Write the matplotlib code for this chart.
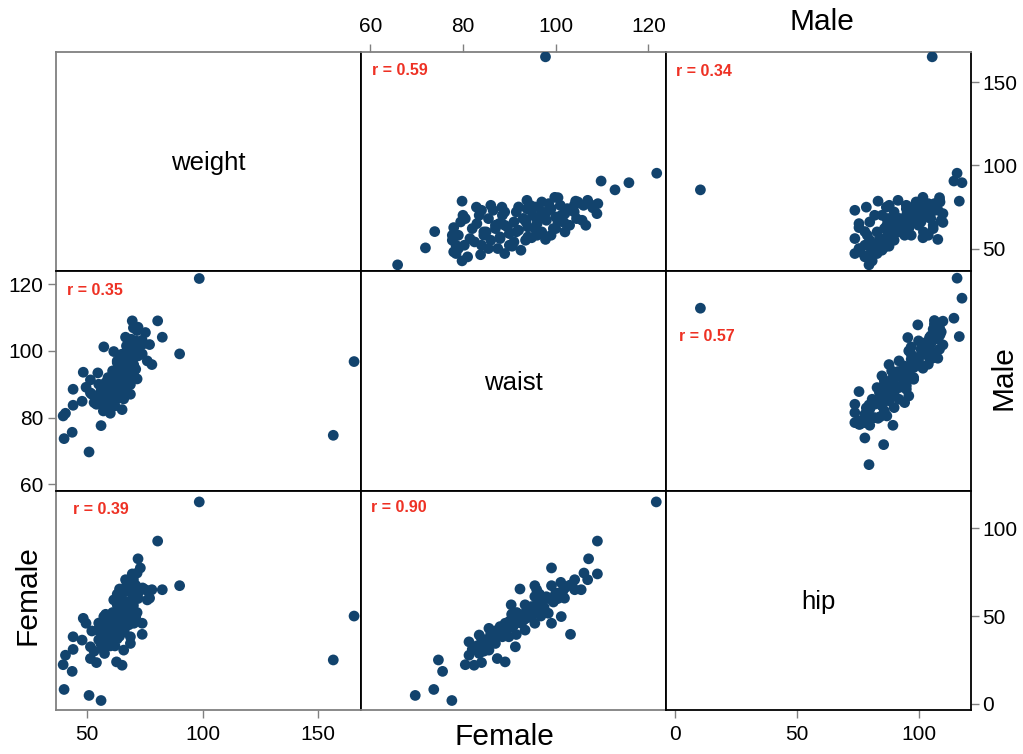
import matplotlib
matplotlib.use("Agg")
import matplotlib.pyplot as plt

plt.rcParams['font.family'] = ['Liberation Sans', 'DejaVu Sans']

variables = ["weight", "waist", "hip"]

female_weight = [98.5, 80.5, 72.0, 69.5, 73.0, 71.6, 70.0, 66.6, 82.5, 75.2,
                 68.0, 90.0, 67.0, 78.0, 64.0, 77.0, 61.5, 76.0, 70.0, 66.0,
                 63.0, 68.0, 66.0, 65.0, 57.2, 73.8, 73.8, 48.3, 62.0, 70.2,
                 54.6, 49.5, 60.0, 64.0, 43.9, 68.7, 58.0, 62.0, 60.0, 47.8,
                 68.7, 65.8, 57.5, 40.6, 51.4, 62.7, 51.4, 65.1, 39.6, 156.5,
                 43.5, 40.0, 50.8, 56.0, 165.5, 43.9, 54.0, 71.6,
                 58, 61, 63, 60, 65, 67, 69, 70, 72, 74,
                 55, 57, 59, 62, 64, 66, 68, 66, 68, 52,
                 56, 60, 58, 63, 69, 71, 71, 64, 62, 53,
                 58, 60, 62, 64, 66, 68, 70, 72, 56, 59,
                 61, 63, 65, 67, 69, 60, 63, 66, 68, 70,
                 57, 62, 65, 71, 55]
female_waist = [121.7, 109.0, 107.1, 109.0, 99.1, 106.1, 106.9, 104.1, 104.1, 105.5,
                101.1, 99.1, 95.5, 95.9, 92.3, 101.9, 99.8, 97.0, 95.5, 90.4,
                93.4, 94.8, 97.0, 98.4, 101.2, 99.1, 103.2, 93.6, 93.4, 95.5,
                93.4, 89.1, 90.6, 88.4, 88.5, 89.9, 85.6, 83.5, 81.3, 84.9,
                87.0, 85.6, 83.5, 81.3, 91.3, 89.1, 87.4, 82.4, 80.5, 74.7,
                75.6, 73.7, 69.7, 77.6, 96.8, 83.7, 84.0, 91.6,
                84.0, 86.0, 88.0, 90.0, 92.0, 94.0, 96.0, 98.0, 100.0, 102.0,
                86.5, 88.5, 91.0, 93.0, 95.0, 97.5, 99.5, 89.5, 92.5, 87.0,
                85.0, 83.0, 90.5, 96.5, 101.0, 103.0, 94.5, 86.0, 91.5, 84.5,
                86.0, 87.5, 89.0, 90.5, 92.0, 93.5, 96.0, 98.5, 88.0, 92.0,
                94.0, 97.0, 99.0, 101.5, 103.5, 84.5, 86.5, 88.5, 91.0, 93.0,
                82.0, 85.0, 95.5, 100.5, 90.0]
female_hip = [115.0, 92.7, 82.6, 74.0, 77.4, 74.5, 70.7, 70.7, 65.0, 65.0,
              69.2, 67.3, 67.3, 65.0, 65.4, 60.2, 59.2, 59.2, 61.1, 56.4,
              56.4, 55.4, 53.5, 51.6, 49.7, 45.9, 39.6, 48.7, 49.7, 45.9,
              42.0, 45.9, 43.9, 42.0, 38.2, 38.2, 43.0, 39.2, 35.3, 36.3,
              34.4, 30.6, 28.7, 27.7, 32.5, 23.9, 25.8, 22.0, 22.3, 25.0,
              18.5, 8.2, 4.8, 1.9, 50.0, 31.0, 23.5, 52.0,
              37.0, 40.0, 44.0, 47.0, 50.0, 53.0, 57.0, 61.0, 63.0, 66.0,
              36.5, 40.0, 45.0, 47.5, 51.0, 55.0, 58.0, 42.5, 46.0, 41.5,
              34.0, 33.0, 51.0, 62.5, 63.5, 67.5, 49.5, 38.5, 39.5, 30.0,
              39.0, 41.0, 44.0, 47.0, 49.0, 52.0, 56.0, 60.0, 43.0, 48.0,
              52.0, 57.0, 60.0, 64.0, 68.0, 35.0, 37.0, 41.0, 45.0, 48.0,
              31.0, 33.0, 54.0, 60.0, 46.0]

male_weight = [165.3, 95.3, 89.6, 85.3, 90.6, 78.5, 79.0, 80.8, 67.0, 71.0,
               74.5, 78.5, 60.2, 50.4, 40.2, 42.6, 62.6, 47.0, 46.3, 73.0,
               74.9, 74.9, 79.0, 73.9, 51.4, 56.5, 55.5, 65.7, 65.0, 55.0,
               58.0, 76.0, 77.0, 72.0, 76.0, 78.0, 68.0, 70.0, 66.0, 63.0,
               58.0, 52.0, 56.0, 50.0, 80.6,
               60, 62, 64, 66, 68, 70, 72, 74, 76, 55,
               57, 59, 61, 63, 65, 67, 69, 71, 65, 68,
               70, 72, 75, 77, 52, 50, 54, 57, 60, 62,
               64, 73, 75, 58, 62, 62, 68, 47, 49, 73,
               48, 52, 58, 66, 70, 45, 54, 60, 70, 76,
               50, 56, 64, 72, 52, 60, 68, 76, 55, 62,
               70, 78, 58, 66, 74, 60, 68, 76, 64, 72]
male_waist = [97.8, 121.8, 115.8, 112.8, 109.8, 104.3, 106.9, 99.8, 105.7, 108.9,
              108.0, 79.8, 73.9, 71.9, 65.9, 79.8, 78.0, 78.5, 83.8, 84.0,
              82.9, 88.4, 93.8, 93.8, 90.6, 94.8, 97.8, 101.8, 87.8, 77.7,
              77.7, 107.8, 109.1, 104.0, 104.0, 104.8, 95.9, 101.2, 93.6, 89.6,
              84.5, 80.3, 81.5, 79.0, 100.5,
              85.0, 87.0, 89.0, 91.0, 93.0, 95.0, 97.0, 99.0, 101.0, 86.0,
              88.0, 90.0, 92.0, 94.0, 96.0, 98.0, 100.0, 102.0, 83.0, 85.5,
              88.5, 91.5, 95.5, 98.5, 84.0, 87.5, 91.0, 94.0, 97.0, 100.0,
              103.0, 86.5, 92.0, 96.0, 99.5, 82.0, 80.5, 89.0, 92.5, 103.5,
              78.0, 78.5, 79.0, 79.5, 80.0, 81.0, 82.5, 84.5, 83.5, 86.0,
              85.5, 88.0, 87.0, 89.0, 90.0, 91.5, 93.0, 94.5, 93.5, 95.5,
              97.5, 97.0, 99.0, 100.5, 102.5, 102.0, 104.5, 106.0, 106.5, 98.0]
male_hip = [105.6, 115.8, 117.8, 10.6, 114.5, 116.7, 108.6, 101.8, 109.3, 110.0,
            106.5, 83.4, 78.0, 85.7, 79.7, 81.0, 75.6, 73.9, 79.7, 73.9,
            78.6, 86.8, 91.6, 95.0, 87.9, 101.8, 107.9, 110.0, 75.6, 80.0,
            89.5, 99.7, 106.5, 95.6, 104.5, 108.8, 87.9, 97.0, 91.6, 95.0,
            94.3, 84.3, 73.9, 75.6, 108.6,
            88.0, 90.0, 92.0, 94.0, 96.0, 98.0, 100.0, 102.0, 104.0, 85.0,
            87.0, 90.0, 93.0, 95.0, 97.0, 100.0, 103.0, 105.0, 90.0, 92.0,
            95.0, 98.0, 101.0, 104.0, 82.0, 84.0, 86.0, 89.0, 92.0, 96.0,
            100.0, 96.0, 98.0, 104.0, 106.0, 86.0, 87.0, 83.0, 85.0, 108.0,
            76.0, 78.0, 79.0, 80.0, 82.0, 78.0, 80.0, 83.0, 85.0, 88.0,
            81.0, 84.0, 87.0, 90.0, 86.0, 89.0, 92.0, 95.0, 90.0, 94.0,
            97.0, 99.0, 97.0, 101.0, 103.0, 102.0, 105.0, 107.0, 106.0, 99.0]

# correlation labels as printed on the chart, keyed by (row, col)
r_labels = {(0, 1): "r = 0.59", (0, 2): "r = 0.34", (1, 2): "r = 0.57",
            (1, 0): "r = 0.35", (2, 0): "r = 0.39", (2, 1): "r = 0.90"}
r_pos = {(0, 1): (0.036, 0.912), (0, 2): (0.034, 0.908), (1, 2): (0.044, 0.704),
         (1, 0): (0.036, 0.913), (2, 0): (0.056, 0.913), (2, 1): (0.033, 0.922)}

limits = {"weight": (36.5, 168.5), "waist": (58.0, 123.8), "hip": (-3.5, 121.5)}
ticks = {"weight": [50, 100, 150], "waist": [60, 80, 100, 120], "hip": [0, 50, 100]}

female = {"weight": female_weight, "waist": female_waist, "hip": female_hip}
male = {"weight": male_weight, "waist": male_waist, "hip": male_hip}

dot_color = "#12436D"
red = "#EE3124"
grey = "#808080"

fig = plt.figure(figsize=(10.23, 7.54), dpi=100)
left = 56 / 1023
pw = 305 / 1023
ph = 219.5 / 754
row_bottom = [(754 - 271) / 754, (754 - 491) / 754, (754 - 710) / 754]

axes = [[None] * 3 for _ in range(3)]
for i in range(3):
    for j in range(3):
        ax = fig.add_axes([left + j * pw, row_bottom[i], pw, ph])
        axes[i][j] = ax
        xv, yv = variables[j], variables[i]
        ax.set_xlim(*limits[xv])
        ax.set_ylim(*limits[yv])
        ax.set_xticks(ticks[xv])
        ax.set_yticks(ticks[yv])
        ax.tick_params(bottom=False, top=False, left=False, right=False,
                       labelbottom=False, labeltop=False,
                       labelleft=False, labelright=False)
        for s in ax.spines.values():
            s.set_color("black")
            s.set_linewidth(1.3)
        if i == j:
            ax.text(0.5, 0.49, variables[i], transform=ax.transAxes,
                    ha="center", va="center", fontsize=18.5)
            continue
        data = female if i > j else male
        ax.scatter(data[xv], data[yv], s=60, color=dot_color,
                   edgecolors="none", zorder=3)
        px, py = r_pos[(i, j)]
        ax.text(px, py, r_labels[(i, j)], transform=ax.transAxes,
                ha="left", va="center", fontsize=11.5, fontweight="bold",
                color=red)

tick_kw = dict(length=6, width=1, color=grey, labelcolor="black", labelsize=15)

# columns: weight bottom, waist top, hip bottom
axes[2][0].tick_params(axis="x", bottom=True, labelbottom=True, pad=5, **tick_kw)
axes[0][1].tick_params(axis="x", top=True, labeltop=True, pad=5, **tick_kw)
axes[2][2].tick_params(axis="x", bottom=True, labelbottom=True, pad=5, **tick_kw)
# rows: weight right, waist left, hip right
axes[0][2].tick_params(axis="y", right=True, labelright=True, pad=2, **tick_kw)
axes[1][0].tick_params(axis="y", left=True, labelleft=True, pad=3, **tick_kw)
axes[2][2].tick_params(axis="y", right=True, labelright=True, pad=2, **tick_kw)

for i in range(3):
    axes[i][0].spines["left"].set_color(grey)
for j in range(3):
    axes[0][j].spines["top"].set_color(grey)
for j in range(2):
    axes[2][j].spines["bottom"].set_color(grey)

fig.text(504 / 1023, 1 - 737 / 754, "Female", ha="center", va="center", fontsize=21.5)
fig.text(28 / 1023, 1 - 595 / 754, "Female", ha="center", va="center",
         rotation=90, fontsize=21.5)
fig.text(822 / 1023, 1 - 22 / 754, "Male", ha="center", va="center", fontsize=21.5)
fig.text(1004 / 1023, 1 - 378 / 754, "Male", ha="center", va="center",
         rotation=90, fontsize=21.5)

fig.savefig("out.png", dpi=100)
